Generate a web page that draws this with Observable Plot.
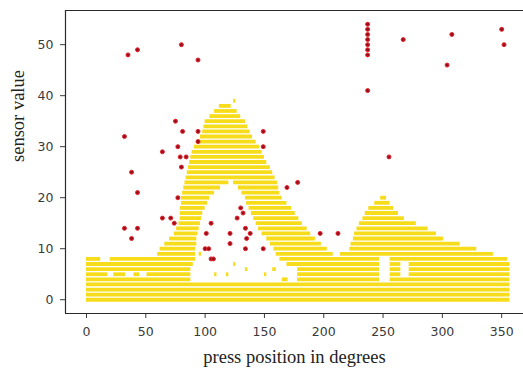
<!DOCTYPE html>
<html>
<head>
<meta charset="utf-8">
<script src="https://cdn.jsdelivr.net/npm/d3@7"></script>
<script src="https://cdn.jsdelivr.net/npm/@observablehq/plot@0.6"></script>
<style>
  html, body { margin: 0; padding: 0; background: #fff; }
</style>
</head>
<body>
<div id="chart"></div>
<script>
// Tick values
const xTicks = [0, 50, 100, 150, 200, 250, 300, 350];
const yTicks = [0, 10, 20, 30, 40, 50];

// Dense yellow readings: [sensor value, from degree, to degree] runs
const bandSegments = [
  [0, 0, 357], [1, 0, 357], [2, 0, 357], [3, 0, 357],
  [4, 0, 88], [4, 178, 247], [4, 256, 357],
  [5, 0, 18], [5, 23, 33], [5, 40, 45], [5, 51, 88], [5, 178, 247], [5, 256, 265], [5, 272, 357],
  [6, 0, 88], [6, 178, 247], [6, 256, 265], [6, 272, 357],
  [7, 0, 90], [7, 169, 247], [7, 256, 265], [7, 272, 357],
  [8, 0, 12], [8, 20, 92], [8, 163, 247], [8, 256, 355],
  [9, 60, 92], [9, 160, 208], [9, 214, 343],
  [10, 62, 92], [10, 158, 203], [10, 222, 329],
  [11, 66, 93], [11, 155, 198], [11, 223, 315],
  [12, 70, 93], [12, 152, 193], [12, 225, 301],
  [13, 74, 94], [13, 148, 189], [13, 226, 295],
  [14, 76, 95], [14, 145, 186], [14, 228, 288],
  [15, 78, 96], [15, 143, 182], [15, 230, 278],
  [16, 79, 97], [16, 141, 179], [16, 233, 268],
  [17, 79, 98], [17, 139, 176], [17, 235, 263],
  [18, 79, 100], [18, 137, 173], [18, 238, 259],
  [19, 80, 102], [19, 135, 169], [19, 243, 256],
  [20, 80, 104], [20, 134, 165], [20, 248, 253],
  [21, 81, 108], [21, 131, 163],
  [22, 82, 113], [22, 128, 162],
  [23, 83, 120], [23, 124, 161],
  [24, 84, 159], [25, 85, 157], [26, 86, 155], [27, 87, 152],
  [28, 88, 150], [29, 89, 148], [30, 91, 146], [31, 93, 143],
  [32, 96, 140], [33, 98, 138], [34, 99, 136], [35, 100, 134],
  [36, 104, 130], [37, 108, 127], [38, 112, 122], [39, 124, 126],
  // sparse readings inside the gaps
  [5, 108, 110], [5, 118, 120], [7, 124, 126], [6, 134, 136],
  [5, 150, 152], [6, 157, 160], [4, 165, 170], [9, 95, 97]
];

// Red outliers
const outlierX = [35, 43, 80, 94, 32, 75, 81, 94, 94, 77, 64, 79, 84, 80, 38, 43, 77, 32, 43, 38,
  64, 71, 74, 105, 101, 100, 103, 105, 107, 121, 121, 127, 130, 132, 134, 138, 135, 134,
  149, 149, 169, 178, 149, 197, 212, 237, 237, 237, 237, 237, 237, 237, 237, 267, 308, 304, 350, 352, 255];
const outlierY = [48, 49, 50, 47, 32, 35, 33, 33, 31, 30, 29, 28, 28, 26, 25, 21, 20, 14, 14, 12,
  16, 16, 15, 15, 13, 10, 10, 8, 8, 13, 11, 16, 18, 17, 14, 13, 12, 10,
  33, 30, 22, 23, 10, 13, 13, 48, 49, 50, 51, 52, 53, 54, 41, 51, 52, 46, 53, 50, 28];

const xLabel = "press position in degrees";
const yLabel = "sensor value";

const segs = bandSegments.map(([v, a, b]) => ({v, a, b}));
const pts = outlierX.map((x, i) => ({x, y: outlierY[i]}));

const xDomain = [-17.7, 368.4];
const yDomain = [-2.7, 56.7];

const chart = Plot.plot({
  width: 523,
  height: 374,
  marginLeft: 65,
  marginRight: 0,
  marginTop: 10,
  marginBottom: 61,
  style: {background: "#fff", fontFamily: "DejaVu Sans", fontSize: "12.5px", color: "#3a3a3a"},
  x: {domain: xDomain, ticks: xTicks, tickSize: 5, tickPadding: 9, label: null},
  y: {domain: yDomain, ticks: yTicks, tickSize: 5, tickPadding: 7, label: null},
  marks: [
    Plot.ruleY(segs, {y: "v", x1: "a", x2: "b", stroke: "#f7dc1c", strokeWidth: 3.8}),
    Plot.dot(pts, {x: "x", y: "y", r: 2, fill: "#9b0d1e", stroke: "#e3262b", strokeWidth: 1}),
    Plot.ruleX([xDomain[0]], {stroke: "#2a2a2a", strokeWidth: 1.2}),
    Plot.ruleY([yDomain[0]], {stroke: "#2a2a2a", strokeWidth: 1.2}),
    Plot.ruleY([yDomain[1]], {stroke: "#2a2a2a", strokeWidth: 1.2}),
    Plot.text([xLabel], {text: d => d, frameAnchor: "bottom", dy: 49, fontFamily: "Liberation Serif", fontSize: 18.5, fill: "#222"}),
    Plot.text([yLabel], {text: d => d, frameAnchor: "left", dx: -47, rotate: -90, fontFamily: "Liberation Serif", fontSize: 18.5, fill: "#222"})
  ]
});
document.getElementById("chart").appendChild(chart);
</script>
</body>
</html>
